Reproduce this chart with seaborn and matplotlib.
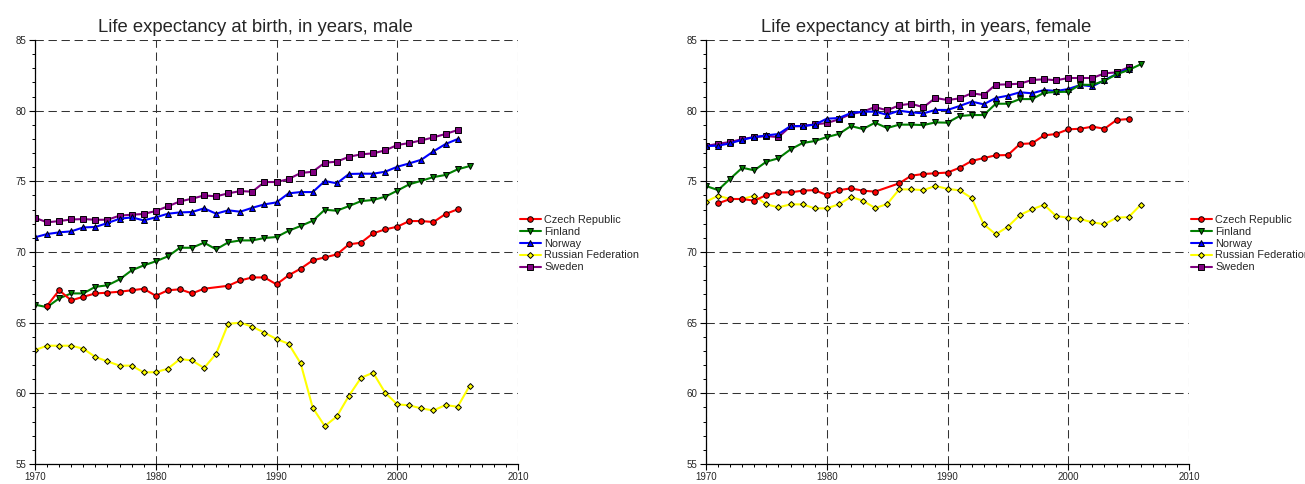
import numpy as np
import pandas as pd
import matplotlib
matplotlib.use("Agg")
import matplotlib.pyplot as plt
import seaborn as sns
from matplotlib.ticker import MultipleLocator

sns.set_style("white")
plt.rcParams['font.family'] = ['Liberation Sans', 'DejaVu Sans']

countries = ["Czech Republic", "Finland", "Norway", "Russian Federation", "Sweden"]
colors = {"Czech Republic": "#ff0000", "Finland": "#008000", "Norway": "#0000ff",
          "Russian Federation": "#ffff00", "Sweden": "#800080"}
markers = {"Czech Republic": "o", "Finland": "v", "Norway": "^",
           "Russian Federation": "D", "Sweden": "s"}
msize = {"Czech Republic": 4.0, "Finland": 4.3, "Norway": 4.3,
         "Russian Federation": 3.0, "Sweden": 3.7}

years_czech = list(range(1971, 1985)) + list(range(1986, 2006))
years_70_05 = list(range(1970, 2006))
years_70_06 = list(range(1970, 2007))

male_czech = [66.2, 67.29, 66.58, 66.83, 67.07, 67.12, 67.19, 67.29, 67.4, 66.9, 67.29, 67.36, 67.07, 67.4,
              67.61, 67.99, 68.2, 68.2, 67.71, 68.35, 68.82, 69.41, 69.62, 69.83, 70.54, 70.66, 71.32, 71.6,
              71.79, 72.19, 72.19, 72.12, 72.69, 73.02]
male_finland = [66.27, 66.1, 66.72, 67.07, 67.07, 67.54, 67.64, 68.06, 68.7, 69.05,
                69.34, 69.69, 70.3, 70.3, 70.66, 70.19, 70.68, 70.82, 70.82, 70.99,
                71.06, 71.5, 71.84, 72.21, 72.99, 72.92, 73.25, 73.6, 73.68, 73.91,
                74.34, 74.79, 75.04, 75.3, 75.45, 75.85, 76.08]
male_norway = [71.04, 71.27, 71.39, 71.46, 71.74, 71.77, 72.05, 72.35, 72.45, 72.24,
               72.45, 72.71, 72.8, 72.83, 73.09, 72.71, 72.95, 72.85, 73.13, 73.37,
               73.51, 74.15, 74.24, 74.24, 75.02, 74.86, 75.52, 75.54, 75.54, 75.68,
               76.03, 76.27, 76.53, 77.12, 77.64, 77.99]
male_russia = [63.06, 63.37, 63.37, 63.37, 63.16, 62.57, 62.26, 61.96, 61.96, 61.48,
               61.5, 61.74, 62.42, 62.33, 61.79, 62.8, 64.92, 65.0, 64.71, 64.29,
               63.84, 63.51, 62.12, 58.98, 57.68, 58.37, 59.83, 61.1, 61.46, 60.04,
               59.22, 59.15, 58.93, 58.79, 59.17, 59.05, 60.54]
male_sweden = [72.42, 72.1, 72.19, 72.3, 72.33, 72.28, 72.28, 72.57, 72.64, 72.69,
               72.9, 73.23, 73.58, 73.77, 74.0, 73.94, 74.15, 74.31, 74.27, 74.95,
               74.95, 75.16, 75.59, 75.68, 76.32, 76.39, 76.74, 76.91, 76.98, 77.19,
               77.57, 77.71, 77.9, 78.11, 78.35, 78.63]

female_czech = [73.44, 73.75, 73.75, 73.63, 74.03, 74.22, 74.22, 74.34, 74.38, 74.03, 74.38, 74.5, 74.34, 74.27,
                74.86, 75.4, 75.52, 75.57, 75.62, 75.96, 76.44, 76.65, 76.84, 76.86, 77.64, 77.69, 78.25, 78.35,
                78.68, 78.72, 78.87, 78.72, 79.34, 79.41]
female_finland = [74.67, 74.38, 75.18, 75.96, 75.78, 76.39, 76.63, 77.26, 77.71, 77.85,
                  78.13, 78.35, 78.91, 78.7, 79.15, 78.77, 79.01, 79.01, 78.98, 79.17,
                  79.15, 79.62, 79.69, 79.69, 80.49, 80.49, 80.82, 80.82, 81.27, 81.32,
                  81.34, 81.84, 81.82, 82.12, 82.57, 82.88, 83.28]
female_norway = [77.5, 77.52, 77.69, 77.94, 78.13, 78.25, 78.35, 78.91, 78.91, 79.01,
                 79.43, 79.48, 79.83, 79.93, 79.93, 79.71, 80.0, 79.88, 79.81, 80.05,
                 80.05, 80.33, 80.64, 80.45, 80.9, 81.06, 81.3, 81.23, 81.46, 81.39,
                 81.53, 81.82, 81.72, 82.17, 82.59, 82.97]
female_russia = [73.56, 73.98, 73.75, 73.75, 73.98, 73.37, 73.16, 73.37, 73.37, 73.09,
                 73.09, 73.37, 73.89, 73.63, 73.11, 73.39, 74.43, 74.43, 74.38, 74.67,
                 74.47, 74.36, 73.82, 71.96, 71.25, 71.79, 72.62, 73.02, 73.34, 72.54,
                 72.43, 72.33, 72.1, 71.96, 72.43, 72.47, 73.34]
female_sweden = [77.5, 77.66, 77.78, 77.99, 78.13, 78.2, 78.13, 78.89, 78.91, 79.03,
                 79.12, 79.39, 79.76, 79.93, 80.26, 80.02, 80.38, 80.49, 80.24, 80.9,
                 80.75, 80.87, 81.23, 81.11, 81.84, 81.86, 81.91, 82.17, 82.22, 82.15,
                 82.31, 82.31, 82.31, 82.64, 82.71, 83.07]

titles = ["Life expectancy at birth, in years, male", "Life expectancy at birth, in years, female"]

panels = [
    {"Czech Republic": (years_czech, male_czech), "Finland": (years_70_06, male_finland),
     "Norway": (years_70_05, male_norway), "Russian Federation": (years_70_06, male_russia),
     "Sweden": (years_70_05, male_sweden)},
    {"Czech Republic": (years_czech, female_czech), "Finland": (years_70_06, female_finland),
     "Norway": (years_70_05, female_norway), "Russian Federation": (years_70_06, female_russia),
     "Sweden": (years_70_05, female_sweden)},
]

W, H = 1305, 484
fig = plt.figure(figsize=(W / 100, H / 100), dpi=100)
lefts = [35, 706]
for i, (panel, title) in enumerate(zip(panels, titles)):
    ax = fig.add_axes([lefts[i] / W, (H - 464) / H, 483 / W, 424 / H])
    for c in reversed(countries):
        yrs, vals = panel[c]
        df = pd.DataFrame({"year": yrs, "value": vals})
        sns.lineplot(data=df, x="year", y="value", ax=ax, color=colors[c], marker=markers[c],
                     markersize=msize[c], markeredgecolor="black", markeredgewidth=0.7,
                     linewidth=1.5, label=c, legend=False)
    ax.set_xlim(1970, 2010)
    ax.set_ylim(55, 85)
    ax.xaxis.set_major_locator(MultipleLocator(10))
    ax.xaxis.set_minor_locator(MultipleLocator(1))
    ax.yaxis.set_major_locator(MultipleLocator(5))
    ax.yaxis.set_minor_locator(MultipleLocator(1))
    ax.grid(True, which="major", color="#333333", linestyle=(0, (8, 4.5)), linewidth=0.75)
    ax.set_axisbelow(True)
    for s in ["top", "right"]:
        ax.spines[s].set_visible(False)
    for s in ["left", "bottom"]:
        ax.spines[s].set_color("black")
        ax.spines[s].set_linewidth(0.9)
    ax.tick_params(which="major", direction="out", length=4, width=0.8, color="black",
                   labelsize=7, pad=2, left=True, bottom=True)
    ax.tick_params(which="minor", direction="out", length=2.5, width=0.7, color="black",
                   left=True, bottom=True)
    ax.set_xlabel("")
    ax.set_ylabel("")
    ax.set_title(title, fontsize=13.3, x=0.456, pad=6)
    handles, labels = ax.get_legend_handles_labels()
    order = [labels.index(c) for c in countries]
    ax.legend([handles[k] for k in order], countries, loc="center left",
              bbox_to_anchor=(1.0, 0.52), frameon=False, fontsize=7.8, borderaxespad=0.2,
              handlelength=1.9, handletextpad=0.3, labelspacing=0.18, borderpad=0)

fig.savefig("out.png", dpi=100)
